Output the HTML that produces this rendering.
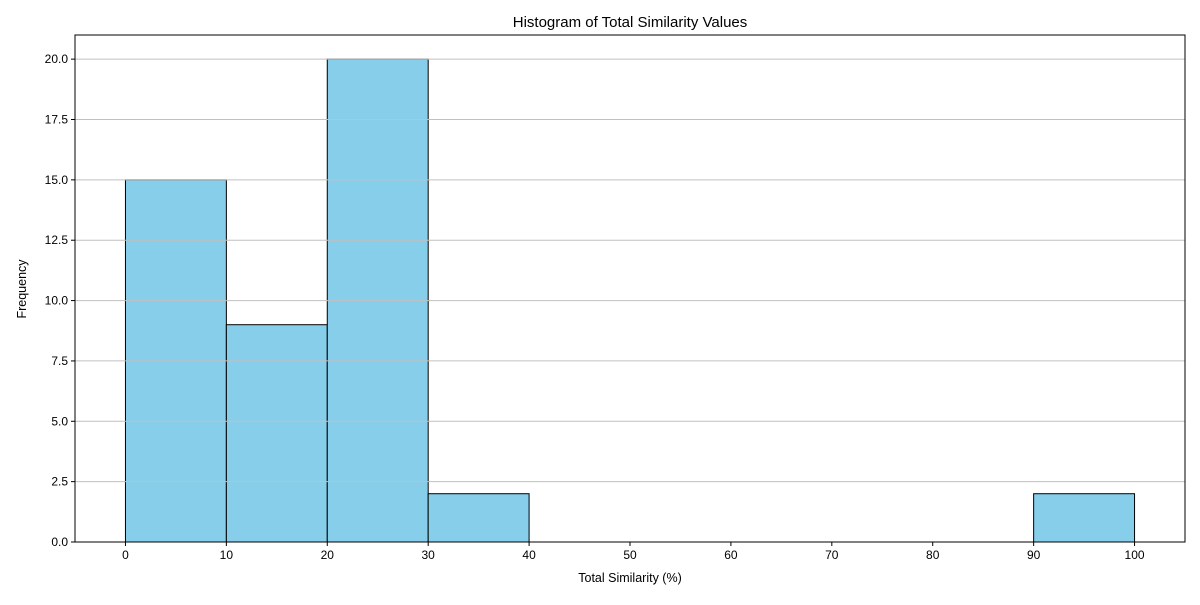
<!DOCTYPE html>
<html><head><meta charset="utf-8"><style>
body{margin:0;background:#fff;}
svg text{font-family:"Liberation Sans","DejaVu Sans",sans-serif;fill:#000;}
</style></head><body>
<svg id="chart" width="1200" height="600" xmlns="http://www.w3.org/2000/svg">
<rect width="1200" height="600" fill="#fff"/>
<text x="630" y="27" font-size="15" text-anchor="middle">Histogram of Total Similarity Values</text>
<text x="630" y="582" font-size="12.5" text-anchor="middle">Total Similarity (%)</text>
<text x="26" y="289" font-size="12.5" text-anchor="middle" transform="rotate(-90 26 289)">Frequency</text>
<g id="bars"></g><g id="grid"></g><g id="axes"></g>
</svg>
<script>
const binEdges=[0,10,20,30,40,50,60,70,80,90,100];
const counts=[15,9,20,2,0,0,0,0,0,2];
const xTicks=[0,10,20,30,40,50,60,70,80,90,100];
const yTicks=[0,2.5,5,7.5,10,12.5,15,17.5,20];
const L=75,R=1185,T=35,B=542,xMin=-5,xMax=105,yMin=0,yMax=21;
const xs=v=>L+(v-xMin)/(xMax-xMin)*(R-L);
const ys=v=>B-(v-yMin)/(yMax-yMin)*(B-T);
const NS="http://www.w3.org/2000/svg";
function mk(tag,attrs,parent){const e=document.createElementNS(NS,tag);for(const k in attrs)e.setAttribute(k,attrs[k]);parent.appendChild(e);return e;}
const grid=document.getElementById('grid'),bars=document.getElementById('bars'),axes=document.getElementById('axes');
yTicks.forEach(t=>{const l=mk('line',{x1:L,x2:R,y1:ys(t),y2:ys(t),stroke:'#c0c0c0','stroke-width':1},grid);

});
counts.forEach((c,i)=>{const x0=xs(binEdges[i]),x1=xs(binEdges[i+1]);
const r=mk('rect',{x:x0,y:ys(c),width:x1-x0,height:ys(0)-ys(c),fill:'#87ceeb',stroke:'#000','stroke-width':1},bars);

});
const fr=mk('rect',{x:L,y:T,width:R-L,height:B-T,fill:'none',stroke:'#000','stroke-width':1},axes);


xTicks.forEach(t=>{const x=xs(t);mk('line',{x1:x,x2:x,y1:B,y2:B+4,stroke:'#000'},axes);
const tx=mk('text',{x:x,y:B+17,'font-size':12,'text-anchor':'middle'},axes);tx.textContent=t;

});
yTicks.forEach(t=>{const y=ys(t);mk('line',{x1:L-4,x2:L,y1:y,y2:y,stroke:'#000'},axes);
const tx=mk('text',{x:L-7,y:y+4,'font-size':12,'text-anchor':'end'},axes);tx.textContent=t.toFixed(1);

});
</script>
</body></html>
